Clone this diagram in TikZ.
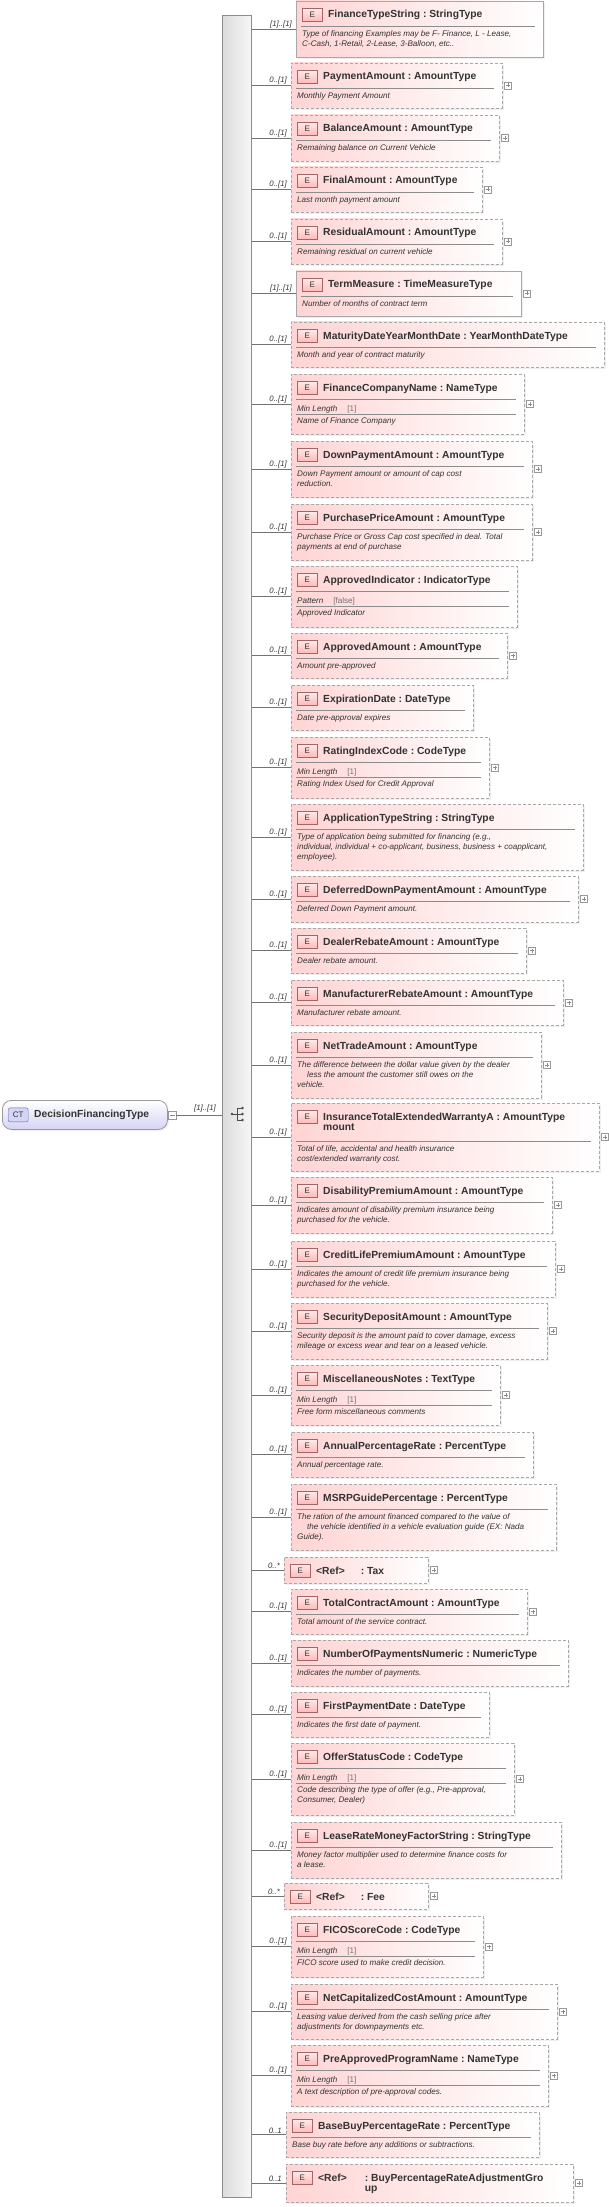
\documentclass[tikz,border=0pt]{standalone}
\usepackage{fontspec}
\setmainfont{Liberation Sans}
\usetikzlibrary{shadows}
\definecolor{pinkA}{HTML}{FFD4D4}
\definecolor{bdr}{HTML}{A8A8A8}
\definecolor{ttlc}{HTML}{333333}
\definecolor{ctA}{HTML}{D4D4F4}
\tikzset{
 base/.style={draw=bdr, line width=0.8pt, left color=pinkA, right color=white, inner sep=0pt, outer sep=0pt,
   drop shadow={shadow xshift=2pt, shadow yshift=-2pt, fill=black!12}},
 dsh/.style={base, dashed, dash pattern=on 3pt off 2pt},
 sld/.style={base},
 badge/.style={draw=red!40!black!60, line width=0.6pt, top color=red!8, bottom color=red!28, minimum width=20pt, minimum height=13pt, inner sep=0pt, font=\fontsize{8}{9}\selectfont, text=ttlc},
 ttl/.style={font=\fontsize{10.3}{11.5}\selectfont\bfseries, text=ttlc, inner sep=0pt, align=left},
 mult/.style={font=\fontsize{7.8}{9}\selectfont\itshape, text=ttlc, inner sep=1pt},
 conn/.style={draw=black!55, line width=0.6pt},
 sepl/.style={draw=black!45, line width=0.6pt},
 dsc/.style={font=\fontsize{8.1}{10}\selectfont\itshape, text=ttlc, inner sep=0pt, align=left, anchor=north west},
 fct/.style={font=\fontsize{8.1}{10}\selectfont, text=ttlc, inner sep=0pt, anchor=base west},
 plusbox/.style={draw=black!40, fill=white, line width=0.5pt, minimum size=7pt, inner sep=0pt,
   path picture={\draw[black!45, line width=0.5pt] ([yshift=-1.5pt]path picture bounding box.north) -- ([yshift=1.5pt]path picture bounding box.south) ([xshift=1.5pt]path picture bounding box.west) -- ([xshift=-1.5pt]path picture bounding box.east);}},
}
\newcommand\Elem[8]{%
 \node[#6, anchor=north west, minimum width={(#4-#2)*1pt}, minimum height={(#5-#3)*1pt}] (#1) at (#2,#3) {};
 \node[badge, anchor=north west] (#1e) at ([xshift=6pt,yshift=-7pt]#1.north west) {E};
 \node[ttl, anchor=base west] (#1t) at ([xshift=32pt,yshift=-17pt]#1.north west) {#8};
 \node[mult, anchor=south east] (#1m) at ([xshift=-3pt]#1.west) {#7};
 \draw[conn] (#1.west) -- (#1.west -| bar.east);
}
\newcommand\Desc[2]{%
 \draw[sepl] ([xshift=5pt,yshift=-25pt]#1.north west) -- ([xshift=-8pt,yshift=-25pt]#1.north east);
 \node[dsc] (#1d) at ([xshift=6pt,yshift=-29pt]#1.north west) {#2};
}
\newcommand\FDesc[4]{%
 \draw[sepl] ([xshift=5pt,yshift=-25pt]#1.north west) -- ([xshift=-8pt,yshift=-25pt]#1.north east);
 \node[fct] (#1f) at ([xshift=6pt,yshift=-37pt]#1.north west) {\textit{#2}\hspace{10pt}\textcolor{black!55}{#3}};
 \draw[sepl] ([xshift=5pt,yshift=-40pt]#1.north west) -- ([xshift=-8pt,yshift=-40pt]#1.north east);
 \node[dsc] (#1d) at ([xshift=6pt,yshift=-43pt]#1.north west) {#4};
}
\newcommand\Plus[1]{\node[plusbox] (#1p) at ([xshift=6pt]#1.east) {};}
\begin{document}
\begin{tikzpicture}[x=1pt,y=-1pt]
\useasboundingbox (0,0) rectangle (608,2207);
% bar
\node[draw=black!45, line width=0.8pt, left color=black!14, right color=black!3, anchor=north west, minimum width=29pt, minimum height=2182pt, inner sep=0pt] (bar) at (222,15) {};
% CT node
\node[draw=black!40, line width=0.8pt, rounded corners=9pt, top color=white, bottom color=ctA, anchor=north west, minimum width=165pt, minimum height=29pt, inner sep=0pt,
  drop shadow={shadow xshift=1.5pt, shadow yshift=-1.5pt, fill=black!12}] (ct) at (2,1100) {};
\node[draw=blue!45!black!60, fill=ctA, rounded corners=2pt, minimum width=20pt, minimum height=14pt, inner sep=0pt, font=\fontsize{8}{9}\selectfont, text=ttlc, anchor=west] (ctb) at ([xshift=6pt]ct.west) {CT};
\node[ttl, anchor=west] (ctt) at ([xshift=32pt]ct.west) {DecisionFinancingType};
\node[draw=black!40, fill=white, minimum size=8pt, inner sep=0pt, anchor=west,
  path picture={\draw[black!45] ([xshift=1.5pt]path picture bounding box.west) -- ([xshift=-1.5pt]path picture bounding box.east);}] (ctm) at (ct.east) {};
\draw[conn] (ctm.east) -- (ctm.east -| bar.west);
\node[mult, anchor=south] (ctml) at (205,1113) {[1]..[1]};
% sequence symbol
\coordinate (sq) at (237,1114);
\fill[black!70] (232,1114) circle (1.3pt);
\draw[black!70, line width=0.7pt] (232,1114) -- (sq) (237,1108) -- (237,1120) (237,1108) -- (242,1108) (sq) -- (242,1114) (237,1120) -- (242,1120);
\fill[black!70] (242.5,1108) circle (1.3pt) (242.5,1114) circle (1.3pt) (242.5,1120) circle (1.3pt);

\Elem{a1}{296}{1}{543}{57}{sld}{[1]..[1]}{FinanceTypeString\ :\ StringType}
\Desc{a1}{Type of financing Examples may be F- Finance, L - Lease,\\C-Cash, 1-Retail, 2-Lease, 3-Balloon, etc..}
\Elem{a2}{291}{63}{502}{108}{dsh}{0..[1]}{PaymentAmount\ :\ AmountType}
\Desc{a2}{Monthly Payment Amount}\Plus{a2}
\Elem{a3}{291}{115}{499}{161}{dsh}{0..[1]}{BalanceAmount\ :\ AmountType}
\Desc{a3}{Remaining balance on Current Vehicle}\Plus{a3}
\Elem{a4}{291}{167}{482}{212}{dsh}{0..[1]}{FinalAmount\ :\ AmountType}
\Desc{a4}{Last month payment amount}\Plus{a4}
\Elem{a5}{291}{219}{502}{264}{dsh}{0..[1]}{ResidualAmount\ :\ AmountType}
\Desc{a5}{Remaining residual on current vehicle}\Plus{a5}
\Elem{a6}{296}{271}{521}{316}{sld}{[1]..[1]}{TermMeasure\ :\ TimeMeasureType}
\Desc{a6}{Number of months of contract term}\Plus{a6}
\Elem{a7}{291}{322}{604}{367}{dsh}{0..[1]}{MaturityDateYearMonthDate\ :\ YearMonthDateType}
\Desc{a7}{Month and year of contract maturity}
\Elem{a8}{291}{374}{524}{434}{dsh}{0..[1]}{FinanceCompanyName\ :\ NameType}
\FDesc{a8}{Min Length}{[1]}{Name of Finance Company}\Plus{a8}
\Elem{a9}{291}{441}{532}{497}{dsh}{0..[1]}{DownPaymentAmount\ :\ AmountType}
\Desc{a9}{Down Payment amount or amount of cap cost\\reduction.}\Plus{a9}
\Elem{a10}{291}{504}{532}{560}{dsh}{0..[1]}{PurchasePriceAmount\ :\ AmountType}
\Desc{a10}{Purchase Price or Gross Cap cost specified in deal. Total\\payments at end of purchase}\Plus{a10}
\Elem{a11}{291}{566}{517}{627}{dsh}{0..[1]}{ApprovedIndicator\ :\ IndicatorType}
\FDesc{a11}{Pattern}{[false]}{Approved Indicator}
\Elem{a12}{291}{633}{507}{678}{dsh}{0..[1]}{ApprovedAmount\ :\ AmountType}
\Desc{a12}{Amount pre-approved}\Plus{a12}
\Elem{a13}{291}{685}{473}{730}{dsh}{0..[1]}{ExpirationDate\ :\ DateType}
\Desc{a13}{Date pre-approval expires}
\Elem{a14}{291}{737}{489}{798}{dsh}{0..[1]}{RatingIndexCode\ :\ CodeType}
\FDesc{a14}{Min Length}{[1]}{Rating Index Used for Credit Approval}\Plus{a14}
\Elem{a15}{291}{804}{583}{870}{dsh}{0..[1]}{ApplicationTypeString\ :\ StringType}
\Desc{a15}{Type of application being submitted for financing (e.g.,\\individual, individual + co-applicant, business, business + coapplicant,\\employee).}
\Elem{a16}{291}{876}{578}{922}{dsh}{0..[1]}{DeferredDownPaymentAmount\ :\ AmountType}
\Desc{a16}{Deferred Down Payment amount.}\Plus{a16}
\Elem{a17}{291}{928}{526}{973}{dsh}{0..[1]}{DealerRebateAmount\ :\ AmountType}
\Desc{a17}{Dealer rebate amount.}\Plus{a17}
\Elem{a18}{291}{980}{563}{1025}{dsh}{0..[1]}{ManufacturerRebateAmount\ :\ AmountType}
\Desc{a18}{Manufacturer rebate amount.}\Plus{a18}
\Elem{a19}{291}{1032}{541}{1098}{dsh}{0..[1]}{NetTradeAmount\ :\ AmountType}
\Desc{a19}{The difference between the dollar value given by the dealer\\\hspace*{10pt}less the amount the customer still owes on the\\vehicle.}\Plus{a19}
\Elem{a20}{291}{1103}{599}{1171}{dsh}{0..[1]}{\begin{tabular}[t]{@{}l@{\ }l@{}}InsuranceTotalExtendedWarrantyA & :\ AmountType\\[-1pt] mount\end{tabular}}
\draw[sepl] ([xshift=5pt,yshift=-38pt]a20.north west) -- ([xshift=-8pt,yshift=-38pt]a20.north east);
\node[dsc] (a20d) at ([xshift=6pt,yshift=-42pt]a20.north west) {Total of life, accidental and health insurance\\cost/extended warranty cost.};
\Plus{a20}
\Elem{a21}{291}{1177}{552}{1233}{dsh}{0..[1]}{DisabilityPremiumAmount\ :\ AmountType}
\Desc{a21}{Indicates amount of disability premium insurance being\\purchased for the vehicle.}\Plus{a21}
\Elem{a22}{291}{1241}{555}{1297}{dsh}{0..[1]}{CreditLifePremiumAmount\ :\ AmountType}
\Desc{a22}{Indicates the amount of credit life premium insurance being\\purchased for the vehicle.}\Plus{a22}
\Elem{a23}{291}{1303}{547}{1359}{dsh}{0..[1]}{SecurityDepositAmount\ :\ AmountType}
\Desc{a23}{Security deposit is the amount paid to cover damage, excess\\mileage or excess wear and tear on a leased vehicle.}\Plus{a23}
\Elem{a24}{291}{1365}{500}{1425}{dsh}{0..[1]}{MiscellaneousNotes\ :\ TextType}
\FDesc{a24}{Min Length}{[1]}{Free form miscellaneous comments}\Plus{a24}
\Elem{a25}{291}{1432}{533}{1477}{dsh}{0..[1]}{AnnualPercentageRate\ :\ PercentType}
\Desc{a25}{Annual percentage rate.}
\Elem{a26}{291}{1484}{556}{1550}{dsh}{0..[1]}{MSRPGuidePercentage\ :\ PercentType}
\Desc{a26}{The ration of the amount financed compared to the value of\\\hspace*{10pt}the vehicle identified in a vehicle evaluation guide (EX: Nada\\Guide).}
\Elem{a27}{284}{1557}{428}{1583}{dsh}{0..*}{<Ref>\hspace{16pt}:\ Tax}\Plus{a27}
\Elem{a28}{291}{1589}{527}{1634}{dsh}{0..[1]}{TotalContractAmount\ :\ AmountType}
\Desc{a28}{Total amount of the service contract.}\Plus{a28}
\Elem{a29}{291}{1640}{568}{1686}{dsh}{0..[1]}{NumberOfPaymentsNumeric\ :\ NumericType}
\Desc{a29}{Indicates the number of payments.}
\Elem{a30}{291}{1692}{489}{1737}{dsh}{0..[1]}{FirstPaymentDate\ :\ DateType}
\Desc{a30}{Indicates the first date of payment.}
\Elem{a31}{291}{1743}{514}{1815}{dsh}{0..[1]}{OfferStatusCode\ :\ CodeType}
\FDesc{a31}{Min Length}{[1]}{Code describing the type of offer (e.g., Pre-approval,\\Consumer, Dealer)}\Plus{a31}
\Elem{a32}{291}{1822}{561}{1878}{dsh}{0..[1]}{LeaseRateMoneyFactorString\ :\ StringType}
\Desc{a32}{Money factor multiplier used to determine finance costs for\\a lease.}
\Elem{a33}{284}{1883}{428}{1909}{dsh}{0..*}{<Ref>\hspace{16pt}:\ Fee}\Plus{a33}
\Elem{a34}{291}{1916}{483}{1977}{dsh}{0..[1]}{FICOScoreCode\ :\ CodeType}
\FDesc{a34}{Min Length}{[1]}{FICO score used to make credit decision.}\Plus{a34}
\Elem{a35}{291}{1984}{557}{2039}{dsh}{0..[1]}{NetCapitalizedCostAmount\ :\ AmountType}
\Desc{a35}{Leasing value derived from the cash selling price after\\adjustments for downpayments etc.}\Plus{a35}
\Elem{a36}{291}{2045}{548}{2106}{dsh}{0..[1]}{PreApprovedProgramName\ :\ NameType}
\FDesc{a36}{Min Length}{[1]}{A text description of pre-approval codes.}\Plus{a36}
\Elem{a37}{286}{2112}{539}{2157}{dsh}{0..1}{BaseBuyPercentageRate\ :\ PercentType}
\Desc{a37}{Base buy rate before any additions or subtractions.}
\Elem{a38}{286}{2164}{573}{2202}{dsh}{0..1}{\begin{tabular}[t]{@{}l@{\hspace{18pt}}l@{}}<Ref> & :\ BuyPercentageRateAdjustmentGro\\[-1pt] & up\end{tabular}}\Plus{a38}
\end{tikzpicture}
\end{document}
